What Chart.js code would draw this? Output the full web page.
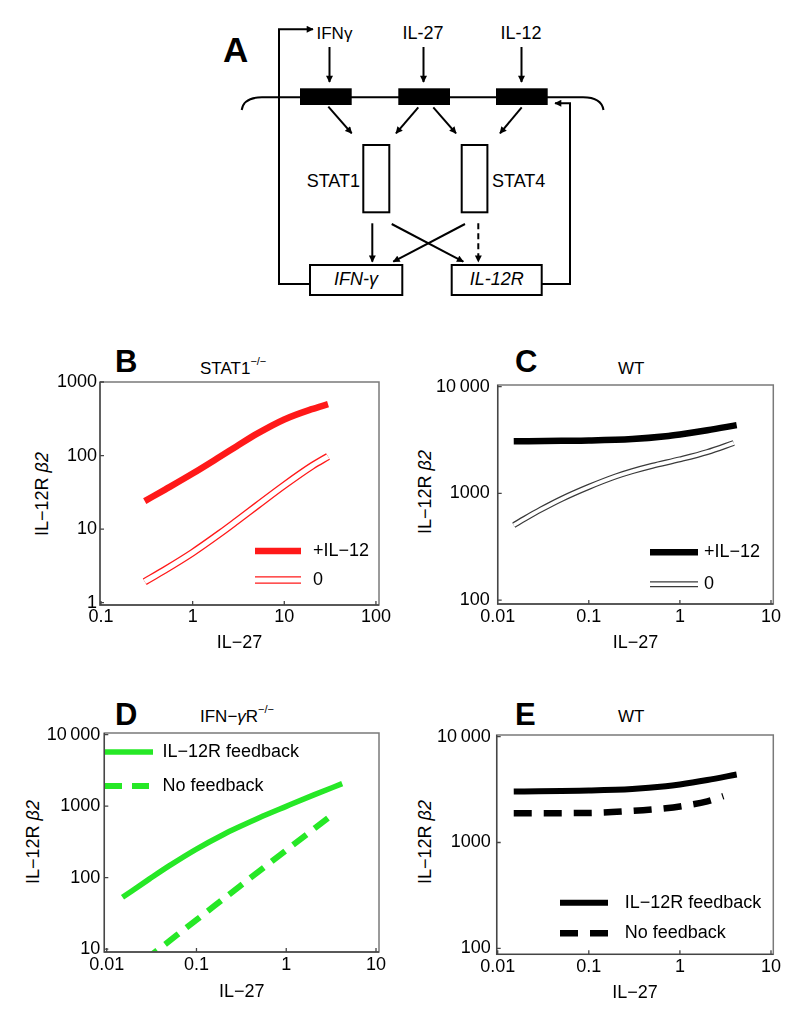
<!DOCTYPE html>
<html>
<head>
<meta charset="utf-8">
<script src="https://cdn.jsdelivr.net/npm/chart.js@4.4.0/dist/chart.umd.min.js"></script>
<style>
body { margin: 0; background: #fff; font-family: "Liberation Sans", Arial, sans-serif; }
#fig { position: relative; width: 800px; height: 1017px; overflow: hidden; background: #fff; }
.abs { position: absolute; white-space: nowrap; color: #000; line-height: 1; }
.letter { font-weight: bold; font-size: 31px; }
.ptitle { font-size: 17px; }
.ptitle sup { font-size: 11px; line-height: 0; vertical-align: 9px; }
.ylab { font-size: 18px; transform: translate(-50%, -50%) rotate(-90deg); }
canvas { position: absolute; }
</style>
</head>
<body>
<div id="fig">
  <!-- panel A: pathway diagram -->
  <svg width="800" height="310" style="position:absolute;left:0;top:0" font-family="Liberation Sans, Arial, sans-serif">
    <defs>
      <marker id="arr" viewBox="0 0 10 10" refX="9" refY="5" markerWidth="8" markerHeight="7" orient="auto" markerUnits="userSpaceOnUse">
        <path d="M0,0 L10,5 L0,10 z" fill="#000"/>
      </marker>
    </defs>
    <text x="223" y="62" font-size="35" font-weight="bold">A</text>
    <text x="316.5" y="39" font-size="17">IFNγ</text>
    <text x="423" y="39" font-size="18" text-anchor="middle">IL-27</text>
    <text x="521" y="39" font-size="18" text-anchor="middle">IL-12</text>
    <g stroke="#000" stroke-width="2" fill="none">
      <line x1="329.5" y1="47" x2="329.5" y2="82" marker-end="url(#arr)"/>
      <line x1="423.5" y1="47" x2="423.5" y2="82" marker-end="url(#arr)"/>
      <line x1="521.5" y1="47" x2="521.5" y2="82" marker-end="url(#arr)"/>
      <path d="M241.7,110 C243,101 250,97.3 262,97.3 L583,97.3 C595,97.3 602,101 603.5,110"/>
      <line x1="328.3" y1="106.7" x2="351.7" y2="133.3" marker-end="url(#arr)"/>
      <line x1="418.3" y1="107.3" x2="396" y2="133.3" marker-end="url(#arr)"/>
      <line x1="433.3" y1="107.3" x2="456" y2="133.3" marker-end="url(#arr)"/>
      <line x1="521.7" y1="107.3" x2="500" y2="133.3" marker-end="url(#arr)"/>
      <rect x="363.3" y="145" width="26" height="67.3" fill="#fff"/>
      <rect x="461.7" y="145" width="25.7" height="67.3" fill="#fff"/>
      <line x1="372.3" y1="223.3" x2="372.3" y2="261.7" marker-end="url(#arr)"/>
      <line x1="391.7" y1="224" x2="463.3" y2="261.7" marker-end="url(#arr)"/>
      <line x1="465" y1="224" x2="393.3" y2="261.7" marker-end="url(#arr)"/>
      <line x1="478.3" y1="223.3" x2="478.3" y2="261.7" stroke-dasharray="6,4" marker-end="url(#arr)"/>
      <rect x="310" y="265" width="92.3" height="30" fill="#fff"/>
      <rect x="451.7" y="265" width="90" height="30" fill="#fff"/>
      <polyline points="310,284 279,284 279,29.3 313,29.3" marker-end="url(#arr)"/>
      <polyline points="541.7,284 570,284 570,103.3 555,103.3" marker-end="url(#arr)"/>
    </g>
    <g fill="#000">
      <rect x="300" y="88.3" width="51.7" height="16.7"/>
      <rect x="398.3" y="88.3" width="51.7" height="16.7"/>
      <rect x="496" y="88.3" width="51.7" height="16.7"/>
    </g>
    <text x="360" y="186.5" font-size="18" text-anchor="end">STAT1</text>
    <text x="492" y="186.5" font-size="18">STAT4</text>
    <text x="356" y="285" font-size="18" font-style="italic" text-anchor="middle">IFN-γ</text>
    <text x="496.7" y="285" font-size="18" font-style="italic" text-anchor="middle">IL-12R</text>
  </svg>

  <div class="abs letter" style="left:115px;top:346px">B</div>
  <div class="abs letter" style="left:515px;top:346px">C</div>
  <div class="abs letter" style="left:115px;top:699px">D</div>
  <div class="abs letter" style="left:515px;top:699px">E</div>

  <div class="abs ptitle" style="left:200px;top:359.5px">STAT1<sup>−/−</sup></div>
  <div class="abs ptitle" style="left:618px;top:359.5px">WT</div>
  <div class="abs ptitle" style="left:200px;top:708px">IFN−<i>γ</i>R<sup>−/−</sup></div>
  <div class="abs ptitle" style="left:618px;top:708px">WT</div>

  <div class="abs ylab" style="left:41.7px;top:493.5px">IL−12R <i>β2</i></div>
  <div class="abs ylab" style="left:425px;top:492px">IL−12R <i>β2</i></div>
  <div class="abs ylab" style="left:33.3px;top:841.5px">IL−12R <i>β2</i></div>
  <div class="abs ylab" style="left:425px;top:842px">IL−12R <i>β2</i></div>

  <canvas id="chartB" width="400" height="290" style="left:0;top:370px"></canvas>
  <canvas id="chartC" width="400" height="292" style="left:400px;top:368px"></canvas>
  <canvas id="chartD" width="400" height="297" style="left:0;top:720px"></canvas>
  <canvas id="chartE" width="400" height="297" style="left:400px;top:720px"></canvas>
</div>

<script>
// B: STAT1-/-
const bIL27 = [0.3, 0.5, 1, 2, 3, 5, 10, 20, 30];
const bPlusIL12 = [24, 34.5, 57, 97, 133, 197, 310, 428, 500];
const bZero = [1.93, 2.8, 4.8, 8.8, 12.8, 20.7, 39.5, 72, 97];

// C: WT, with / without IL-12
const cIL27 = [0.015, 0.05, 0.1, 0.3, 0.7, 1, 2, 4.2];
const cPlusIL12 = [3070, 3105, 3127, 3228, 3428, 3565, 3900, 4355];
const cZeroIL27 = [0.015, 0.02, 0.03, 0.05, 0.1, 0.2, 0.3, 0.5, 1, 2, 3.9];
const cZero = [503, 582, 707, 885, 1150, 1446, 1614, 1815, 2085, 2440, 2965];

// D: IFN-gammaR-/-
const dIL27 = [0.015, 0.03, 0.05, 0.1, 0.2, 0.3, 0.5, 1, 2, 4.2];
const dFeedback = [53, 96, 147, 251, 402, 514, 689, 994, 1426, 2065];
const dNoFbIL27 = [0.015, 0.03, 0.1, 0.3, 1, 3.1];
const dNoFeedback = [4.0, 7.9, 25.6, 75, 242, 722];

// E: WT feedback vs none
const eIL27 = [0.015, 0.1, 0.3, 0.7, 1, 2, 4.2];
const eFeedback = [3040, 3100, 3200, 3396, 3532, 3891, 4385];
const eNoFbIL27 = [0.015, 0.1, 0.3, 0.7, 1, 2, 3];
const eNoFeedback = [1890, 1901, 1987, 2108, 2192, 2449, 2742];

// tick labels
const bXTicks = [0.1, 1, 10, 100];
const bXLabels = ['0.1', '1', '10', '100'];
const bYTicks = [1, 10, 100, 1000];
const bYLabels = ['1', '10', '100', '1000'];
const wtXTicks = [0.01, 0.1, 1, 10];
const wtXLabels = ['0.01', '0.1', '1', '10'];
const wtYTicks = [100, 1000, 10000];
const wtYLabels = ['100', '1000', '10\u2009000'];
const dYTicks = [10, 100, 1000, 10000];
const dYLabels = ['10', '100', '1000', '10\u2009000'];

const RED = 'rgb(255,25,25)';
const GREEN = '#26e826';
const FONT = '"Liberation Sans", Arial, sans-serif';

Chart.defaults.font.family = FONT;
Chart.defaults.color = '#000';

function pts(xs, ys) {
    return xs.map((x, i) => ({ x: x, y: ys[i] }));
}

// frame around the plot with small inward ticks
const framePlugin = {
    id: 'frame',
    afterDatasetsDraw(chart) {
        const { ctx, chartArea: a, scales } = chart;
        ctx.save();
        ctx.strokeStyle = '#7a7a7a';
        ctx.lineWidth = 1.5;
        ctx.strokeRect(a.left, a.top, a.right - a.left, a.bottom - a.top);
        ctx.strokeStyle = '#444';
        ctx.lineWidth = 1.3;
        ctx.beginPath();
        ctx.moveTo(a.left, a.top);
        ctx.lineTo(a.left, a.bottom);
        ctx.lineTo(a.right, a.bottom);
        scales.x.ticks.forEach(t => {
            const px = scales.x.getPixelForValue(t.value);
            ctx.moveTo(px, a.bottom);
            ctx.lineTo(px, a.bottom - 4);
        });
        scales.y.ticks.forEach(t => {
            const py = scales.y.getPixelForValue(t.value);
            ctx.moveTo(a.left, py);
            ctx.lineTo(a.left + 4, py);
        });
        ctx.stroke();
        ctx.restore();
    }
};

// legend drawn with the datasets' own line styles
const legendPlugin = {
    id: 'lineLegend',
    afterDraw(chart, args, opts) {
        const { ctx, chartArea: a } = chart;
        ctx.save();
        ctx.font = '18px ' + FONT;
        ctx.textBaseline = 'middle';
        ctx.fillStyle = '#000';
        opts.items.forEach((item, i) => {
            const y = a.top + opts.y + i * opts.gap;
            const x0 = a.left + opts.x;
            item.ds.forEach(di => {
                const ds = chart.data.datasets[di];
                ctx.beginPath();
                ctx.strokeStyle = ds.borderColor;
                ctx.lineWidth = ds.borderWidth;
                ctx.setLineDash(ds.borderDash || []);
                ctx.moveTo(x0, y);
                ctx.lineTo(x0 + opts.len, y);
                ctx.stroke();
            });
            ctx.setLineDash([]);
            ctx.fillText(item.text, x0 + opts.len + opts.textGap, y);
        });
        ctx.restore();
    }
};

function line(data, color, width, order, dash) {
    return {
        data: data,
        borderColor: color,
        borderWidth: width,
        borderDash: dash || [],
        borderCapStyle: 'butt',
        pointRadius: 0,
        fill: false,
        cubicInterpolationMode: 'monotone',
        order: order
    };
}

function logAxis(min, max, ticks, labels, pad, size, isX, titlePad) {
    const axis = {
        type: 'logarithmic',
        min: min,
        max: max,
        border: { display: false },
        grid: { display: false, drawTicks: false },
        ticks: {
            autoSkip: false,
            maxRotation: 0,
            padding: pad,
            font: { size: 18, lineHeight: 1 },
            color: '#000',
            callback: (v, i) => labels[i]
        },
        afterBuildTicks: scale => {
            scale.ticks = ticks.map(v => ({ value: v }));
        }
    };
    if (isX) {
        axis.afterFit = scale => { scale.height = size; };
        axis.title = {
            display: true,
            text: 'IL−27',
            font: { size: 18 },
            color: '#000',
            padding: { top: 0, bottom: titlePad }
        };
    } else {
        axis.afterFit = scale => { scale.width = size; };
    }
    return axis;
}

function makeChart(id, datasets, cfg) {
    const ctx = document.getElementById(id).getContext('2d');
    return new Chart(ctx, {
        type: 'line',
        data: { datasets: datasets },
        options: {
            responsive: false,
            animation: false,
            layout: { padding: { top: cfg.padTop, right: cfg.padRight, left: 0, bottom: 0 } },
            scales: {
                x: logAxis(cfg.x[0], cfg.x[1], cfg.xTicks, cfg.xLabels, cfg.xPad, cfg.xH, true, cfg.titlePad),
                y: logAxis(cfg.y[0], cfg.y[1], cfg.yTicks, cfg.yLabels, cfg.yPad, cfg.yW, false)
            },
            plugins: {
                legend: { display: false },
                tooltip: { enabled: false },
                lineLegend: cfg.legend
            }
        },
        plugins: [framePlugin, legendPlugin]
    });
}

makeChart('chartB', [
    line(pts(bIL27, bPlusIL12), RED, 6.5, 2),
    line(pts(bIL27, bZero), RED, 7.6, 1),
    line(pts(bIL27, bZero), '#fff', 5.0, 0)
], {
    padTop: 12, padRight: 21, yW: 100, xH: 55, titlePad: 6, xPad: 3, yPad: 3,
    x: [0.0975, 108], y: [0.93, 1000],
    xTicks: bXTicks, xLabels: bXLabels, yTicks: bYTicks, yLabels: bYLabels,
    legend: { x: 155, y: 169, gap: 29, len: 46, textGap: 12,
        items: [{ text: '+IL−12', ds: [0] }, { text: '0', ds: [1, 2] }] }
});

makeChart('chartC', [
    line(pts(cIL27, cPlusIL12), '#000', 6.5, 2),
    line(pts(cZeroIL27, cZero), '#3a3a3a', 6.0, 1),
    line(pts(cZeroIL27, cZero), '#fff', 3.6, 0)
], {
    padTop: 12, padRight: 26.7, yW: 97.7, xH: 56, titlePad: 6, xPad: 4, yPad: 8,
    x: [0.01, 10.6], y: [91.9, 10360],
    xTicks: wtXTicks, xLabels: wtXLabels, yTicks: wtYTicks, yLabels: wtYLabels,
    legend: { x: 152.3, y: 167.3, gap: 32, len: 48, textGap: 6,
        items: [{ text: '+IL−12', ds: [0] }, { text: '0', ds: [1, 2] }] }
});

makeChart('chartD', [
    line(pts(dIL27, dFeedback), GREEN, 5.5, 1),
    line(pts(dNoFbIL27, dNoFeedback), GREEN, 6, 0, [17, 10])
], {
    padTop: 11, padRight: 21, yW: 104.3, xH: 65, titlePad: 14.5, xPad: 4, yPad: 4,
    x: [0.0094, 10.8], y: [9.1, 10560],
    xTicks: wtXTicks, xLabels: wtXLabels, yTicks: dYTicks, yLabels: dYLabels,
    legend: { x: 0.7, y: 19, gap: 34, len: 48, textGap: 9.4,
        items: [{ text: 'IL−12R feedback', ds: [0] }, { text: 'No feedback', ds: [1] }] }
});

makeChart('chartE', [
    line(pts(eIL27, eFeedback), '#000', 6, 1),
    line(pts(eNoFbIL27, eNoFeedback), '#000', 6.5, 0, [18, 12])
], {
    padTop: 10, padRight: 26.7, yW: 96.7, xH: 62.7, titlePad: 13, xPad: 4, yPad: 6,
    x: [0.00975, 10.6], y: [88, 10360],
    xTicks: wtXTicks, xLabels: wtXLabels, yTicks: wtYTicks, yLabels: wtYLabels,
    legend: { x: 63.3, y: 167.7, gap: 30.6, len: 48, textGap: 16.7,
        items: [{ text: 'IL−12R feedback', ds: [0] }, { text: 'No feedback', ds: [1] }] }
});
</script>
</body>
</html>
